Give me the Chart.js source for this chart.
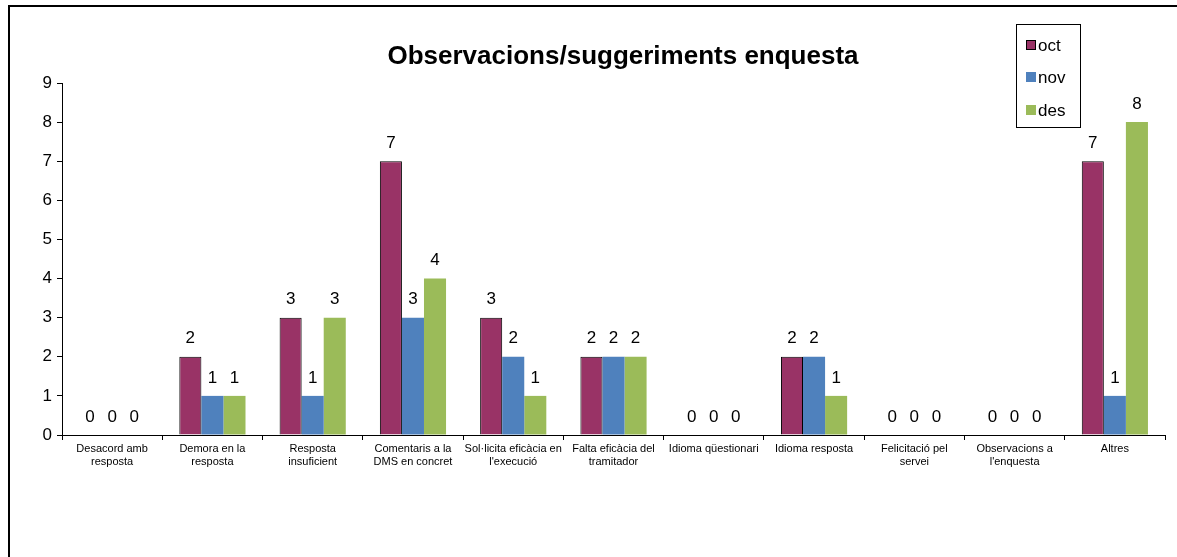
<!DOCTYPE html>
<html>
<head>
<meta charset="utf-8">
<script src="https://cdn.jsdelivr.net/npm/chart.js@4/dist/chart.umd.min.js"></script>
<style>
  html, body { margin: 0; padding: 0; background: #fff; }
  #wrap { position: relative; width: 1177px; height: 557px; }
</style>
</head>
<body>
<div id="wrap"><canvas id="myChart" width="1177" height="557"></canvas></div>
<script>
// categories (x axis, wrapped like the sheet)
const categories = [
  ['Desacord amb', 'resposta'],
  ['Demora en la', 'resposta'],
  ['Resposta', 'insuficient'],
  ['Comentaris a la', 'DMS en concret'],
  ['Sol·licita eficàcia en', "l'execució"],
  ['Falta eficàcia del', 'tramitador'],
  ['Idioma qüestionari'],
  ['Idioma resposta'],
  ['Felicitació pel', 'servei'],
  ['Observacions a', "l'enquesta"],
  ['Altres']
];
const oct = [0, 2, 3, 7, 3, 2, 0, 2, 0, 0, 7];
const nov = [0, 1, 1, 3, 2, 2, 0, 2, 0, 0, 1];
const des = [0, 1, 3, 4, 1, 2, 0, 1, 0, 0, 8];
const yTicks = [0, 1, 2, 3, 4, 5, 6, 7, 8, 9];

const FONT = "Arial, 'Liberation Sans', sans-serif";

// frame, title, value labels and legend box
const decor = {
  id: 'decor',
  beforeDraw(chart) {
    const c = chart.ctx;
    c.save();
    c.fillStyle = '#fff';
    c.fillRect(0, 0, chart.width, chart.height);
    c.strokeStyle = '#000';
    c.lineWidth = 2;
    c.beginPath();
    c.moveTo(9, chart.height);
    c.lineTo(9, 6);
    c.lineTo(chart.width, 6);
    c.stroke();
    c.restore();
  },
  afterDatasetsDraw(chart) {
    const c = chart.ctx;
    c.save();
    c.font = '17px ' + FONT;
    c.fillStyle = '#000';
    c.textAlign = 'center';
    c.textBaseline = 'middle';
    chart.data.datasets.forEach((ds, i) => {
      chart.getDatasetMeta(i).data.forEach((bar, j) => {
        c.fillText(String(ds.data[j]), bar.x, bar.y - 18);
      });
    });
    c.restore();
  },
  afterDraw(chart) {
    const c = chart.ctx;
    c.save();
    // title
    c.font = 'bold 26px ' + FONT;
    c.fillStyle = '#000';
    c.textAlign = 'center';
    c.textBaseline = 'middle';
    c.fillText('Observacions/suggeriments enquesta', 623, 57);

    // legend
    const lx = 1016.5, ly = 24.5, lw = 64, lh = 103;
    c.fillStyle = '#fff';
    c.fillRect(lx, ly, lw, lh);
    c.strokeStyle = '#000';
    c.lineWidth = 1;
    c.strokeRect(lx, ly, lw, lh);
    c.font = '17px ' + FONT;
    c.textAlign = 'left';
    const rows = [45, 77, 110];
    chart.data.datasets.forEach((ds, i) => {
      const y = rows[i];
      c.fillStyle = ds.backgroundColor;
      c.fillRect(1026, y - 5, 10, 10);
      if (ds.borderWidth) {
        c.strokeStyle = '#000';
        c.strokeRect(1026.5, y - 4.5, 9, 9);
      }
      c.fillStyle = '#000';
      c.fillText(ds.label, 1038, y + 1);
    });
    c.restore();
  }
};

new Chart(document.getElementById('myChart'), {
  type: 'bar',
  plugins: [decor],
  data: {
    labels: categories,
    datasets: [
      { label: 'oct', data: oct, backgroundColor: '#993366', borderColor: '#000', borderWidth: 1 },
      { label: 'nov', data: nov, backgroundColor: '#4F81BD', borderWidth: 0 },
      { label: 'des', data: des, backgroundColor: '#9BBB59', borderWidth: 0 }
    ]
  },
  options: {
    responsive: false,
    animation: false,
    datasets: { bar: { categoryPercentage: 0.66, barPercentage: 1 } },
    layout: { padding: { left: 20, right: 12, top: 83, bottom: 72 } },
    plugins: {
      legend: { display: false },
      title: { display: false },
      tooltip: { enabled: false }
    },
    scales: {
      x: {
        afterFit(axis) { axis.height = 50; },
        border: { display: true, color: '#000', width: 1 },
        grid: { offset: true, drawOnChartArea: false, drawTicks: true, tickLength: 5, color: '#000' },
        ticks: {
          color: '#000',
          font: { family: FONT, size: 11 },
          maxRotation: 0,
          minRotation: 0,
          autoSkip: false,
          padding: 2
        }
      },
      y: {
        min: yTicks[0],
        max: yTicks[yTicks.length - 1],
        afterFit(axis) { axis.width = 42; },
        afterBuildTicks(axis) { axis.ticks = yTicks.map(v => ({ value: v })); },
        border: { display: true, color: '#000', width: 1 },
        grid: { drawOnChartArea: false, drawTicks: true, tickLength: 5, color: '#000' },
        ticks: {
          color: '#000',
          font: { family: FONT, size: 17 },
          padding: 5
        }
      }
    }
  }
});
</script>
</body>
</html>
